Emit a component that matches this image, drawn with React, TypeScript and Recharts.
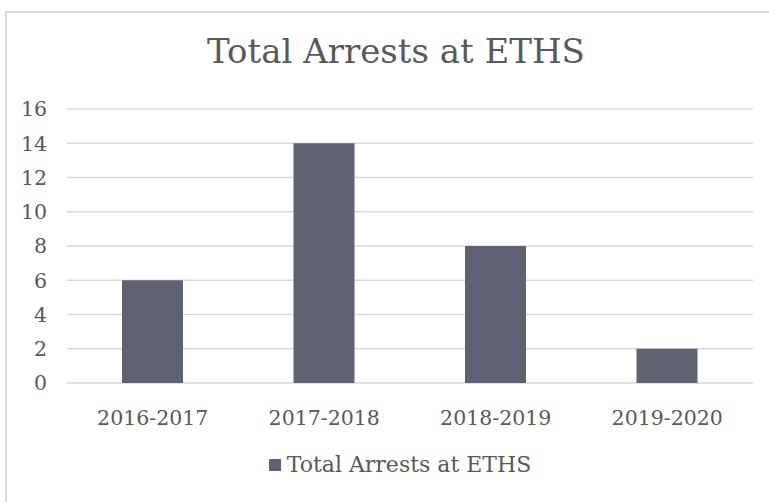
import { BarChart, Bar, XAxis, YAxis, CartesianGrid } from 'recharts';

const years = ['2016-2017', '2017-2018', '2018-2019', '2019-2020'];
const arrests = [6, 14, 8, 2];
const yTicks = [0, 2, 4, 6, 8, 10, 12, 14, 16];
const seriesName = 'Total Arrests at ETHS';

const data = years.map((year, i) => ({ year, arrests: arrests[i] }));

const FONT = '"DejaVu Serif", serif';
const TEXT = '#595959';
const BAR = '#5f6272';

export default function App() {
  return (
    <div
      style={{
        position: 'fixed',
        top: 0,
        left: 0,
        width: 769,
        height: 502,
        background: '#fff',
        overflow: 'hidden',
        fontFamily: FONT,
      }}
    >
      <div
        style={{
          position: 'absolute',
          left: 5,
          top: 11,
          width: 800,
          height: 560,
          border: '2px solid #d9d9d9',
          boxSizing: 'border-box',
        }}
      />
      <div
        style={{
          position: 'absolute',
          left: 0,
          width: 792,
          top: 28,
          textAlign: 'center',
          fontSize: 34,
          color: TEXT,
          lineHeight: '46px',
        }}
      >
        Total Arrests at ETHS
      </div>
      <div style={{ position: 'absolute', left: 0, top: 0 }}>
        <BarChart
          width={769}
          height={502}
          data={data}
          margin={{ top: 109, right: 16, bottom: 89, left: 0 }}
        >
          <CartesianGrid vertical={false} stroke="#d9d9d9" strokeWidth={1.5} />
          <XAxis
            dataKey="year"
            axisLine={false}
            tickLine={false}
            tickSize={0}
            tickMargin={27}
            height={30}
            tick={{ fontSize: 20.5, fill: TEXT, fontFamily: FONT }}
          />
          <YAxis
            domain={[0, 16]}
            ticks={yTicks}
            axisLine={false}
            tickLine={false}
            tickSize={0}
            tickMargin={20}
            width={67}
            tick={{ fontSize: 20.5, fill: TEXT, fontFamily: FONT }}
          />
          <Bar dataKey="arrests" name={seriesName} fill={BAR} barSize={61} isAnimationActive={false} />
        </BarChart>
      </div>
      <div
        style={{
          position: 'absolute',
          left: 0,
          width: 800,
          top: 452,
          display: 'flex',
          justifyContent: 'center',
          alignItems: 'center',
          fontSize: 22,
          color: TEXT,
        }}
      >
        <span style={{ display: 'inline-block', width: 12, height: 12, background: BAR, marginRight: 6 }} />
        <span>{seriesName}</span>
      </div>
    </div>
  );
}
